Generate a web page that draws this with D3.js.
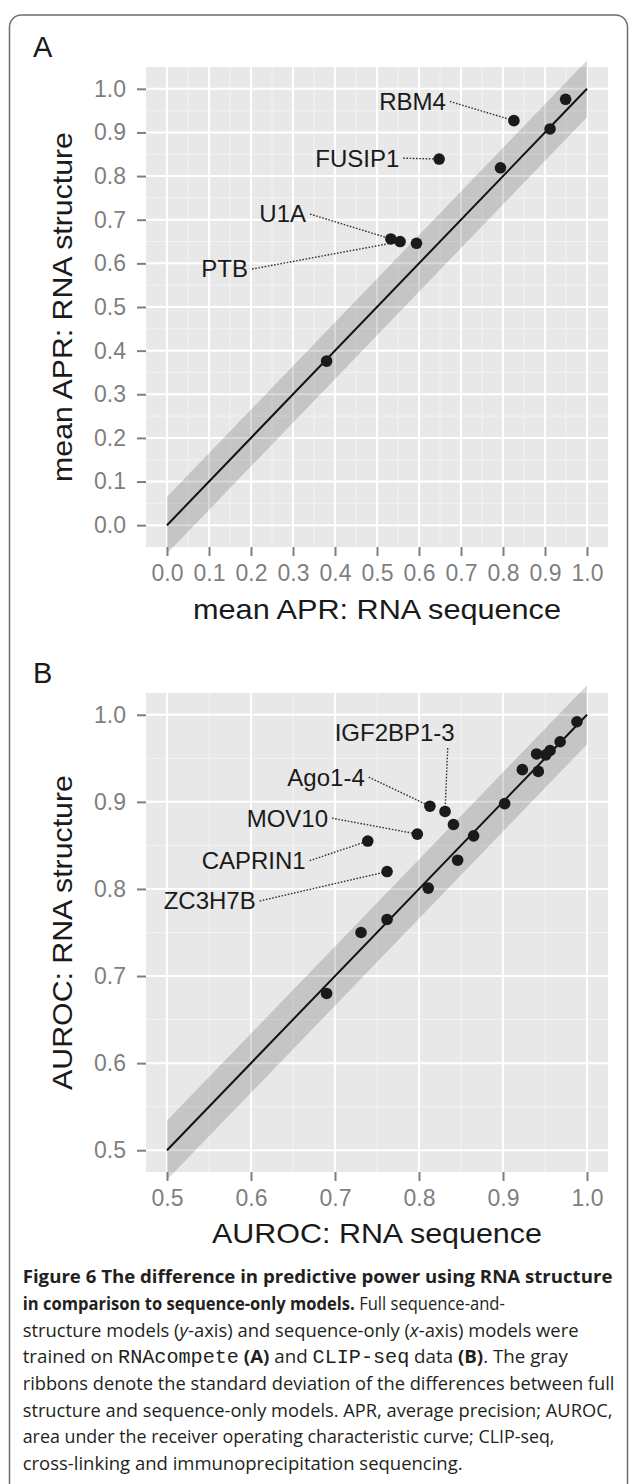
<!DOCTYPE html>
<html>
<head>
<meta charset="utf-8">
<script src="https://cdn.jsdelivr.net/npm/d3@7"></script>
<style>
  body { margin: 0; background: #fff; }
  svg { display: block; }
</style>
</head>
<body>
<svg id="fig" width="629" height="1484"></svg>
<script>
// Panel A: RNAcompete, mean APR (sequence-only vs sequence+structure)
const aprSequence  = [0.380, 0.533, 0.555, 0.594, 0.648, 0.794, 0.826, 0.912, 0.949];
const aprStructure = [0.376, 0.656, 0.650, 0.646, 0.839, 0.819, 0.927, 0.908, 0.976];
const aprNames     = ["", "U1A", "PTB", "", "FUSIP1", "", "RBM4", "", ""];
const aprTicks     = [0.0, 0.1, 0.2, 0.3, 0.4, 0.5, 0.6, 0.7, 0.8, 0.9, 1.0];
const aprSd        = 0.065;

// Panel B: CLIP-seq, AUROC
const aurocSequence  = [0.690, 0.731, 0.762, 0.762, 0.739, 0.798, 0.811, 0.813, 0.831, 0.841,
                        0.846, 0.865, 0.902, 0.923, 0.942, 0.940, 0.951, 0.956, 0.968, 0.988];
const aurocStructure = [0.680, 0.750, 0.765, 0.820, 0.855, 0.863, 0.801, 0.895, 0.889, 0.874,
                        0.833, 0.861, 0.898, 0.937, 0.935, 0.955, 0.954, 0.959, 0.969, 0.992];
const aurocNames     = ["", "", "", "ZC3H7B", "CAPRIN1", "MOV10", "", "Ago1-4", "IGF2BP1-3", "",
                        "", "", "", "", "", "", "", "", "", ""];
const aurocTicks     = [0.5, 0.6, 0.7, 0.8, 0.9, 1.0];
const aurocSd        = 0.034;

// where the label text ends, in data units (like annotate() in ggplot)
const labelAnchors = {
  "RBM4": [0.664, 0.971], "FUSIP1": [0.553, 0.841], "U1A": [0.331, 0.713], "PTB": [0.193, 0.587],
  "IGF2BP1-3": [0.8425, 0.979], "Ago1-4": [0.7354, 0.9284], "MOV10": [0.6917, 0.8813],
  "CAPRIN1": [0.6651, 0.8325], "ZC3H7B": [0.6056, 0.7862]
};

const captionLines = [
  [["b", "Figure 6 The difference in predictive power using RNA structure"]],
  [["b", "in comparison to sequence-only models."], ["r", " Full sequence-and-"]],
  [["r", "structure models ("], ["i", "y"], ["r", "-axis) and sequence-only ("], ["i", "x"], ["r", "-axis) models were"]],
  [["r", "trained on "], ["m", "RNAcompete"], ["r", " "], ["b", "(A)"], ["r", " and "], ["m", "CLIP-seq"], ["r", " data "], ["b", "(B)"], ["r", ". The gray"]],
  [["r", "ribbons denote the standard deviation of the differences between full"]],
  [["r", "structure and sequence-only models. APR, average precision; AUROC,"]],
  [["r", "area under the receiver operating characteristic curve; CLIP-seq,"]],
  [["r", "cross-linking and immunoprecipitation sequencing."]]
];
const captionWidths = [590, 482, 556, 546, 592, 590, 532, 440];

const FONT = '"Liberation Sans", Arial, Helvetica, sans-serif';
const svg = d3.select('#fig');

// frame round the figure
svg.append('path')
    .attr('d', 'M9.5,1484 V27 A12,12 0 0 1 21.5,15 H615.5 A12,12 0 0 1 627.5,27 V1484')
    .attr('fill', 'none')
    .attr('stroke', '#6e6e6e')
    .attr('stroke-width', 1.5);

// squeeze/stretch a text horizontally so it covers a given width
function fitTo(sel, width) {
  const w = sel.node().getBBox().width;
  return width / w;
}

function styleAxis(g) {
  g.select('.domain').remove();
  g.selectAll('.tick line').attr('stroke', '#7f7f7f').attr('stroke-width', 2);
  g.selectAll('.tick text')
      .attr('fill', '#7f7f7f')
      .style('font-family', FONT)
      .style('font-size', '23px');
}

function drawPanel(p) {
  const left = 146, right = 608;
  const x = d3.scaleLinear().domain(p.xPad).range([left, right]);
  const y = d3.scaleLinear().domain(p.xPad).range([p.bottom, p.top]);
  const g = svg.append('g');

  g.append('rect')
      .attr('x', left).attr('y', p.top)
      .attr('width', right - left).attr('height', p.bottom - p.top)
      .attr('fill', '#E8E8E8');

  // grid: minor halfway between breaks, then major
  const minor = d3.pairs(p.ticks, (a, b) => (a + b) / 2);
  const grid = [[minor, '#F3F3F3', 1], [p.ticks, '#FFFFFF', 2]];
  grid.forEach(([vals, col, w]) => {
    g.append('g').selectAll('line').data(vals).join('line')
        .attr('x1', d => x(d)).attr('x2', d => x(d))
        .attr('y1', p.top).attr('y2', p.bottom)
        .attr('stroke', col).attr('stroke-width', w);
    g.append('g').selectAll('line').data(vals).join('line')
        .attr('y1', d => y(d)).attr('y2', d => y(d))
        .attr('x1', left).attr('x2', right)
        .attr('stroke', col).attr('stroke-width', w);
  });

  // sd ribbon round the identity line
  const ends = [p.ticks[0], p.ticks[p.ticks.length - 1]];
  g.append('path')
      .datum(ends)
      .attr('d', d3.area().x(d => x(d)).y0(d => y(d - p.sd)).y1(d => y(d + p.sd)))
      .attr('fill', '#000')
      .attr('fill-opacity', 0.15);

  g.append('path')
      .datum(ends)
      .attr('d', d3.line().x(d => x(d)).y(d => y(d)))
      .attr('fill', 'none')
      .attr('stroke', '#111')
      .attr('stroke-width', 2);

  // labels with dotted leaders
  const labelled = p.names.map((name, i) => ({name, i})).filter(d => d.name);
  labelled.forEach(d => {
    const [lx, ly] = labelAnchors[d.name];
    const tx = x(lx), ty = y(ly);
    const below = d.name === 'IGF2BP1-3';
    const sx = below ? tx - 7 : tx + 4;
    const sy = below ? ty + 15 : ty;
    g.append('line')
        .attr('x1', sx).attr('y1', sy)
        .attr('x2', x(p.xs[d.i])).attr('y2', y(p.ys[d.i]))
        .attr('stroke', '#333')
        .attr('stroke-width', 1.4)
        .attr('stroke-dasharray', '1.6 1.6');
    g.append('text')
        .attr('x', tx).attr('y', ty)
        .attr('dy', '0.35em')
        .attr('text-anchor', 'end')
        .attr('fill', '#1a1a1a')
        .style('font-family', FONT)
        .style('font-size', '24px')
        .text(d.name);
  });

  g.append('g').selectAll('circle')
      .data(p.xs)
      .join('circle')
      .attr('cx', d => x(d))
      .attr('cy', (d, i) => y(p.ys[i]))
      .attr('r', 5.8)
      .attr('fill', '#1a1a1a');

  // axes
  const fmt = d3.format('.1f');
  g.append('g')
      .attr('transform', `translate(${left},0)`)
      .call(d3.axisLeft(y).tickValues(p.ticks).tickFormat(fmt).tickSize(9).tickPadding(11))
      .call(styleAxis);
  g.append('g')
      .attr('transform', `translate(0,${p.bottom})`)
      .call(d3.axisBottom(x).tickValues(p.ticks).tickFormat(fmt).tickSize(9).tickPadding(8.5))
      .call(styleAxis);

  // axis titles
  const xt = g.append('text')
      .attr('text-anchor', 'middle')
      .attr('fill', '#1a1a1a')
      .style('font-family', FONT)
      .style('font-size', '27px')
      .text(p.xTitle);
  xt.attr('transform', `translate(${(left + right) / 2},${p.xTitleY}) scale(${fitTo(xt, p.xTitleW)},1)`);

  const yt = g.append('text')
      .attr('text-anchor', 'middle')
      .attr('fill', '#1a1a1a')
      .style('font-family', FONT)
      .style('font-size', '27px')
      .text(p.yTitle);
  yt.attr('transform', `translate(72,${(p.top + p.bottom) / 2}) rotate(-90) scale(${fitTo(yt, p.yTitleW)},1)`);

  // panel letter
  g.append('text')
      .attr('x', 33).attr('y', p.top - 10)
      .attr('fill', '#1a1a1a')
      .style('font-family', FONT)
      .style('font-size', '29px')
      .text(p.letter);
}

drawPanel({
  letter: 'A', top: 67, bottom: 547, xPad: [-0.05, 1.05],
  xs: aprSequence, ys: aprStructure, names: aprNames, ticks: aprTicks, sd: aprSd,
  xTitle: 'mean APR: RNA sequence', xTitleY: 619, xTitleW: 368,
  yTitle: 'mean APR: RNA structure', yTitleW: 350
});

drawPanel({
  letter: 'B', top: 693, bottom: 1172, xPad: [0.475, 1.025],
  xs: aurocSequence, ys: aurocStructure, names: aurocNames, ticks: aurocTicks, sd: aurocSd,
  xTitle: 'AUROC: RNA sequence', xTitleY: 1243, xTitleW: 330,
  yTitle: 'AUROC: RNA structure', yTitleW: 315
});

// caption
const capStyle = {
  r: {family: '"Open Sans", "Noto Sans", sans-serif', weight: 400, style: 'normal', size: 18.6},
  b: {family: '"Open Sans", "Noto Sans", sans-serif', weight: 700, style: 'normal', size: 18.6},
  i: {family: '"Open Sans", "Noto Sans", sans-serif', weight: 400, style: 'italic', size: 18.6},
  m: {family: '"Liberation Mono", "DejaVu Sans Mono", monospace', weight: 400, style: 'normal', size: 20}
};
captionLines.forEach((parts, k) => {
  const t = svg.append('text').attr('fill', '#231f20');
  parts.forEach(([kind, str]) => {
    const s = capStyle[kind];
    t.append('tspan')
        .style('font-family', s.family)
        .style('font-weight', s.weight)
        .style('font-style', s.style)
        .style('font-size', s.size + 'px')
        .style('white-space', 'pre')
        .text(str);
  });
  t.attr('transform', `translate(22.7,${1283.3 + k * 26.67}) scale(${fitTo(t, captionWidths[k])},1)`);
});
</script>
</body>
</html>
